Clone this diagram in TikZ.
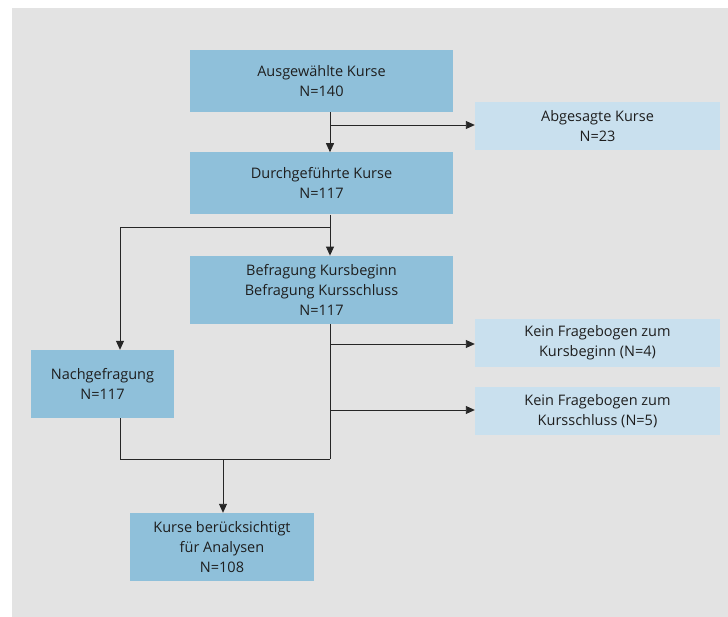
\documentclass[tikz,border=0pt]{standalone}
\usepackage{fontspec}
\setmainfont{Open Sans}
\usetikzlibrary{positioning,arrows.meta,calc}

\definecolor{bgGray}{HTML}{E3E3E3}
\definecolor{boxDark}{HTML}{8FC0DA}
\definecolor{boxLight}{HTML}{C9E0EE}
\definecolor{txtGray}{HTML}{1E1E1E}

\tikzset{
  box/.style={fill=boxDark, text=txtGray, align=center, inner sep=0pt,
    font=\fontsize{14.5}{20}\selectfont},
  subbox/.style={box, fill=boxLight},
  conn/.style={draw=black!85, line width=0.9pt},
  >={Triangle[length=9pt,width=8pt]}
}

\begin{document}
\begin{tikzpicture}[x=1pt,y=-1pt]

  \useasboundingbox (0,0) rectangle (728,617);
  \fill[bgGray] (12,8) rectangle (728,617);

  \node[box, minimum width=263pt, minimum height=62pt] (p0) at (321.5,81) {Ausgewählte Kurse\\N=140};
  \node[subbox, minimum width=245pt, minimum height=48pt] (p1) at (597.5,126) {Abgesagte Kurse\\N=23};
  \node[box, minimum width=263pt, minimum height=62pt] (p2) [below=40pt of p0] {Durchgeführte Kurse\\N=117};
  \node[box, minimum width=263pt, minimum height=68pt] (p3) [below=41pt of p2] {Befragung Kursbeginn\\Befragung Kursschluss\\N=117};
  \node[subbox, minimum width=245pt, minimum height=48pt] (p4) at (597.5,343) {Kein Fragebogen zum\\Kursbeginn (N=4)};
  \node[subbox, minimum width=245pt, minimum height=48pt] (p5) [below=20pt of p4] {Kein Fragebogen zum\\Kursschluss (N=5)};
  \node[box, minimum width=143pt, minimum height=68pt] (p6) at (102.5,384) {Nachgefragung\\N=117};
  \node[box, minimum width=184pt, minimum height=68pt] (p7) at (222,547) {Kurse berücksichtigt\\für Analysen\\N=108};

  % trunk points
  \coordinate (t0) at (330,125);
  \coordinate (t1) at (330,227);
  \coordinate (t2) at (120,227);
  \coordinate (t3) at (330,344);
  \coordinate (t4) at (330,410);
  \coordinate (t5) at (330,459);
  \coordinate (t6) at (120,459);
  \coordinate (t7) at (223,459);

  \path[conn,->] (p0.south -| t0) -- (p2.north -| t0);
  \path[conn,->] (t0) -- (p1.west |- t0);
  \path[conn,->] (p2.south -| t1) -- (p3.north -| t1);
  \path[conn,->] (t1) -- (t2) -- (p6.north -| t2);
  \path[conn] (p3.south -| t5) -- (t5);
  \path[conn,->] (t3) -- (p4.west |- t3);
  \path[conn,->] (t4) -- (p5.west |- t4);
  \path[conn] (p6.south -| t6) -- (t6) -- (t5);
  \path[conn,->] (t7) -- (p7.north -| t7);

\end{tikzpicture}
\end{document}
